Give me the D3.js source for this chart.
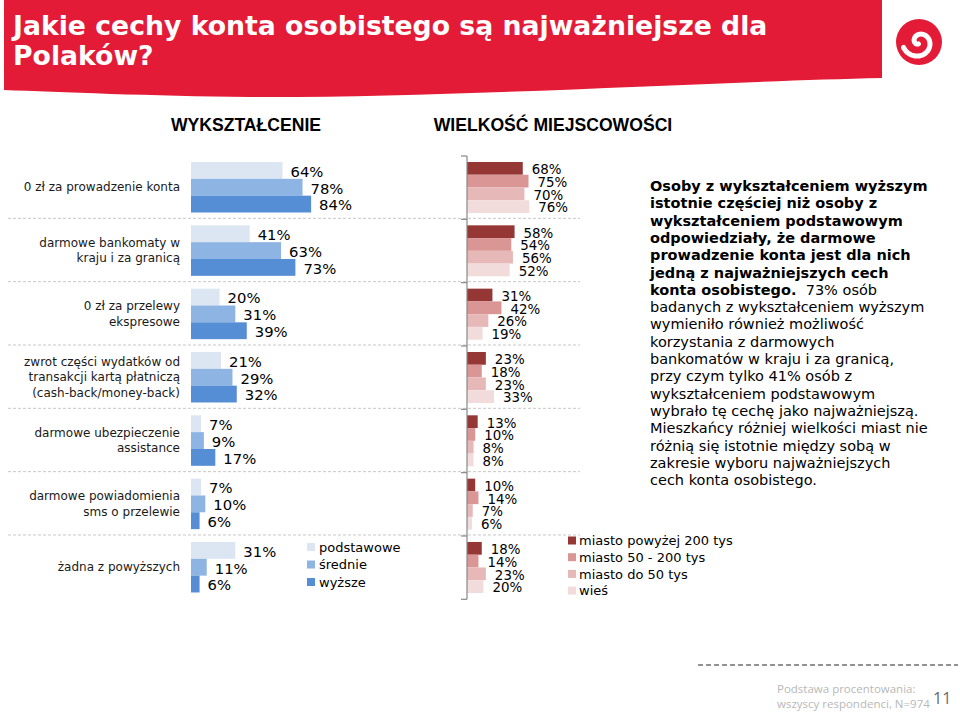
<!DOCTYPE html>
<html><head><meta charset="utf-8">
<script src="https://cdn.jsdelivr.net/npm/d3@7"></script>
<style>body{margin:0;background:#fff;} svg{display:block}</style>
</head><body>
<script>
// ---------- DATA ----------
const categories = [
  ["0 zł za prowadzenie konta"],
  ["darmowe bankomaty w", "kraju i za granicą"],
  ["0 zł za przelewy", "ekspresowe"],
  ["zwrot części wydatków od", "transakcji kartą płatniczą", "(cash-back/money-back)"],
  ["darmowe ubezpieczenie", "assistance"],
  ["darmowe powiadomienia", "sms o przelewie"],
  ["żadna z powyższych"]
];
const eduSeries = ["podstawowe", "średnie", "wyższe"];
const eduValues = [
  [64, 78, 84],
  [41, 63, 73],
  [20, 31, 39],
  [21, 29, 32],
  [7, 9, 17],
  [7, 10, 6],
  [31, 11, 6]
];
const citySeries = ["miasto powyżej 200 tys", "miasto 50 - 200 tys", "miasto do 50 tys", "wieś"];
const cityValues = [
  [68, 75, 70, 76],
  [58, 54, 56, 52],
  [31, 42, 26, 19],
  [23, 18, 23, 33],
  [13, 10, 8, 8],
  [10, 14, 7, 6],
  [18, 14, 23, 20]
];
const titleLines = ["Jakie cechy konta osobistego są najważniejsze dla", "Polaków?"];
const sectionTitles = ["WYKSZTAŁCENIE", "WIELKOŚĆ MIEJSCOWOŚCI"];
const noteLines = [
  [["Osoby z wykształceniem wyższym", true]],
  [["istotnie częściej niż osoby z", true]],
  [["wykształceniem podstawowym", true]],
  [["odpowiedziały, że darmowe", true]],
  [["prowadzenie konta jest dla nich", true]],
  [["jedną z najważniejszych cech", true]],
  [["konta osobistego.", true], ["  73% osób", false]],
  [["badanych z wykształceniem wyższym", false]],
  [["wymieniło również możliwość", false]],
  [["korzystania z darmowych", false]],
  [["bankomatów w kraju i za granicą,", false]],
  [["przy czym tylko 41% osób z", false]],
  [["wykształceniem podstawowym", false]],
  [["wybrało tę cechę jako najważniejszą.", false]],
  [["Mieszkańcy różniej wielkości miast nie", false]],
  [["różnią się istotnie między sobą w", false]],
  [["zakresie wyboru najważniejszych", false]],
  [["cech konta osobistego.", false]]
];
const footerLines = ["Podstawa procentowania:", "wszyscy respondenci, N=974"];
const pageNumber = "11";

// ---------- STYLE ----------
const eduColors = ["#dce6f2", "#8eb4e3", "#558ed5"];
const cityColors = ["#953735", "#d99694", "#e6b9b8", "#f2dcdb"];
const RED = "#e31b37";
const FONT = "'DejaVu Sans', Verdana, sans-serif";

const W = 960, H = 713;
const svg = d3.select("body").append("svg").attr("width", W).attr("height", H)
  .style("font-family", FONT);

// ---------- HEADER ----------
svg.append("path")
  .attr("d", "M4,0 H882 V78 C 700,82 450,98 250,97 C 150,96 60,92 4,90 Z")
  .attr("fill", RED);
svg.selectAll("text.title").data(titleLines).join("text")
  .attr("class", "title")
  .attr("x", 13).attr("y", (d, i) => 35 + i * 30)
  .attr("fill", "#fff").attr("font-weight", "bold").attr("font-size", 26.7)
  .text(d => d);

// logo
const logo = svg.append("g").attr("transform", "translate(919,42)");
logo.append("circle").attr("r", 23).attr("fill", RED);
const spiralPts = d3.range(0, 2.3 * Math.PI, 0.1).map(t => [t + Math.PI * 1.1, 2 + 2.0 * t]);
logo.append("path")
  .attr("d", d3.lineRadial().curve(d3.curveCatmullRom)(spiralPts))
  .attr("fill", "none").attr("stroke", "#fff").attr("stroke-width", 5).attr("stroke-linecap", "round");

// section titles
svg.selectAll("text.sect").data(sectionTitles).join("text")
  .attr("class", "sect")
  .attr("x", (d, i) => i === 0 ? 246 : 553).attr("y", 131)
  .attr("text-anchor", "middle").attr("font-weight", "bold").attr("font-size", 17.6)
  .attr("font-family", "'Liberation Sans', Arial, sans-serif")
  .attr("fill", "#000")
  .text(d => d);

// ---------- SCALES ----------
const yGroup = d3.scaleBand().domain(d3.range(categories.length)).range([156, 599.3]);
const yEdu = d3.scaleBand().domain(d3.range(eduSeries.length)).range([6, 56.5]);
const yCity = d3.scaleBand().domain(d3.range(citySeries.length)).range([6, 57]);
const xEdu = d3.scaleLinear().domain([0, 100]).range([191, 334]);
const xCity = d3.scaleLinear().domain([0, 100]).range([467, 549]);
const cEdu = d3.scaleOrdinal().domain(d3.range(3)).range(eduColors);
const cCity = d3.scaleOrdinal().domain(d3.range(4)).range(cityColors);

// separators
svg.selectAll("line.sep").data(d3.range(1, categories.length)).join("line")
  .attr("class", "sep")
  .attr("x1", 8).attr("x2", 580)
  .attr("y1", d => yGroup(d) - 1).attr("y2", d => yGroup(d) - 1)
  .attr("stroke", "#c8c8c8").attr("stroke-width", 1).attr("stroke-dasharray", "3,2");

// category labels
const catG = svg.append("g");
categories.forEach((lines, i) => {
  const cy = yGroup(i) + yGroup.bandwidth() / 2 - 0.5;
  catG.selectAll(null).data(lines).join("text")
    .attr("x", 180)
    .attr("y", (d, j) => cy + (j - (lines.length - 1) / 2) * 15.5)
    .attr("dy", "0.35em")
    .attr("text-anchor", "end").attr("font-size", 12).attr("fill", "#1a1a1a")
    .text(d => d);
});

// ---------- LEFT BARS ----------
const eduG = svg.append("g").selectAll("g").data(eduValues).join("g")
  .attr("transform", (d, i) => `translate(0,${yGroup(i)})`);
eduG.selectAll("rect").data(d => d).join("rect")
  .attr("x", xEdu(0))
  .attr("y", (d, j) => yEdu(j))
  .attr("width", d => xEdu(d) - xEdu(0))
  .attr("height", yEdu.bandwidth())
  .attr("fill", (d, j) => cEdu(j));
eduG.selectAll("text").data(d => d).join("text")
  .attr("x", d => xEdu(d) + 8)
  .attr("y", (d, j) => yEdu(j) + yEdu.bandwidth() / 2 + 1)
  .attr("dy", "0.36em")
  .attr("font-size", 14.8).attr("fill", "#000")
  .text(d => d + "%");

// left legend
const legE = svg.append("g").selectAll("g").data(eduSeries).join("g")
  .attr("transform", (d, i) => `translate(307,${547 + i * 17.5})`);
legE.append("rect").attr("x", 0).attr("y", -4).attr("width", 8).attr("height", 8)
  .attr("fill", (d, i) => cEdu(i));
legE.append("text").attr("x", 12).attr("dy", "0.36em").attr("font-size", 13).attr("fill", "#000")
  .text(d => d);

// ---------- RIGHT BARS ----------
const cityG = svg.append("g").selectAll("g").data(cityValues).join("g")
  .attr("transform", (d, i) => `translate(0,${yGroup(i)})`);
cityG.selectAll("rect").data(d => d).join("rect")
  .attr("x", xCity(0))
  .attr("y", (d, j) => yCity(j))
  .attr("width", d => xCity(d) - xCity(0))
  .attr("height", yCity.bandwidth())
  .attr("fill", (d, j) => cCity(j));
cityG.selectAll("text").data(d => d).join("text")
  .attr("x", d => xCity(d) + 9)
  .attr("y", (d, j) => yCity(j) + yCity.bandwidth() / 2 + 1)
  .attr("dy", "0.36em")
  .attr("font-size", 13.4).attr("fill", "#000")
  .text(d => d + "%");

// right axis
const ax = svg.append("g");
ax.append("line").attr("x1", xCity(0)).attr("x2", xCity(0))
  .attr("y1", yGroup.range()[0]).attr("y2", yGroup.range()[1])
  .attr("stroke", "#888").attr("stroke-width", 1.2);
ax.selectAll("line.tick").data(d3.range(categories.length + 1)).join("line")
  .attr("class", "tick")
  .attr("x1", xCity(0) - 6).attr("x2", xCity(0))
  .attr("y1", d => yGroup.range()[0] + d * yGroup.step())
  .attr("y2", d => yGroup.range()[0] + d * yGroup.step())
  .attr("stroke", "#888").attr("stroke-width", 1.2);

// right legend
const legC = svg.append("g").selectAll("g").data(citySeries).join("g")
  .attr("transform", (d, i) => `translate(568,${540.5 + i * 16.7})`);
legC.append("rect").attr("x", 0).attr("y", -4).attr("width", 8).attr("height", 8)
  .attr("fill", (d, i) => cCity(i));
legC.append("text").attr("x", 11).attr("dy", "0.36em").attr("font-size", 13).attr("fill", "#000")
  .text(d => d);

// ---------- NOTE TEXT ----------
const note = svg.append("g");
noteLines.forEach((parts, i) => {
  const t = note.append("text").attr("x", 650).attr("y", 191 + i * 17.3)
    .attr("font-size", 14.5).attr("fill", "#000").attr("xml:space", "preserve");
  parts.forEach(([s, b]) => {
    t.append("tspan").attr("font-weight", b ? "bold" : "normal").text(s);
  });
});

// ---------- FOOTER ----------
svg.append("line").attr("x1", 698).attr("x2", 958).attr("y1", 665).attr("y2", 665)
  .attr("stroke", "#6f6f6f").attr("stroke-width", 1.6).attr("stroke-dasharray", "5,3");
svg.selectAll("text.foot").data(footerLines).join("text")
  .attr("class", "foot")
  .attr("x", 777).attr("y", (d, i) => 693 + i * 15)
  .attr("font-family", "'Open Sans', 'Liberation Sans', sans-serif")
  .attr("font-size", 11.5).attr("fill", "#b8b8b8")
  .text(d => d);
svg.append("text").attr("x", 933).attr("y", 704)
  .attr("font-family", "'Open Sans', 'Liberation Sans', sans-serif")
  .attr("font-size", 16).attr("fill", "#6a6a6a").text(pageNumber);
</script>
</body></html>
